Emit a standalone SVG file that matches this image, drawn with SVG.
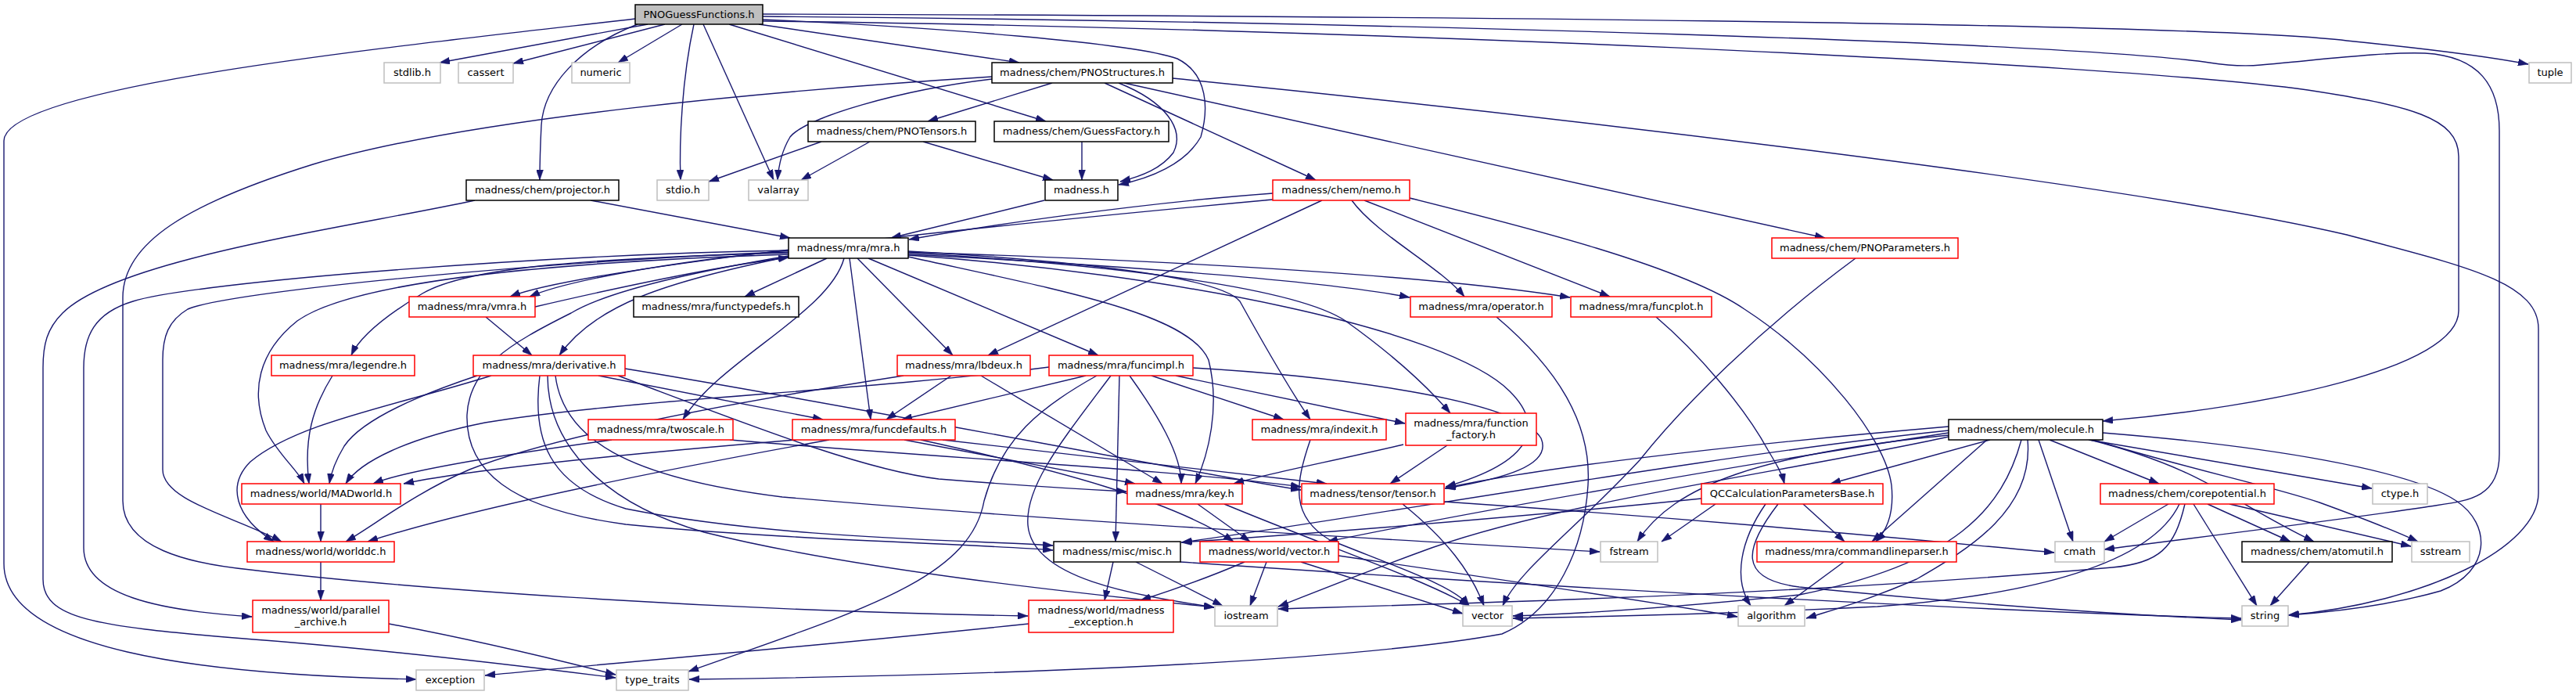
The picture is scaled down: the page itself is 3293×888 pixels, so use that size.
<svg xmlns="http://www.w3.org/2000/svg" width="3293" height="888" viewBox="0 0 3293 888">
<style>
rect{stroke-width:1.5}
.sys rect{fill:#fff;stroke:#bfbfbf}
.doc rect{fill:#fff;stroke:#000}
.red rect{fill:#fff;stroke:#ff0000}
.root rect{fill:#bfbfbf;stroke:#000}
text{font-family:"DejaVu Sans","Liberation Sans",sans-serif;font-size:13px;fill:#000;text-anchor:middle}
#edges path{fill:none;stroke:#191970;stroke-width:1.4;marker-end:url(#ah)}
</style>
<defs>
<marker id="ah" markerUnits="userSpaceOnUse" markerWidth="13" markerHeight="9" refX="13" refY="4.5" orient="auto" viewBox="0 0 13 9">
<path d="M0,0 L13,4.5 L0,9 z" fill="#191970" stroke="#191970" stroke-width="0.5"/>
</marker>
</defs>
<rect width="3293" height="888" fill="#fff" style="stroke:none"/>
<g id="edges">
<path d="M812,24 C500,60 5,110 5,180 L5,720 C5,830 250,862 532,868"/>
<path d="M828,31 L562,80"/>
<path d="M850,31 L656,81"/>
<path d="M872,31 L790,80"/>
<path d="M815,31 C740,60 695,110 692,160 C690,200 690,215 690,230"/>
<path d="M887,31 C872,100 868,180 870,230"/>
<path d="M899,31 L989,230"/>
<path d="M932,31 L1337,155"/>
<path d="M970,31 L1303,80"/>
<path d="M975,25 C1200,35 1450,55 1505,75 C1545,95 1545,140 1535,175 C1515,210 1470,228 1430,236"/>
<path d="M975,18 C1700,20 2800,28 3000,52 C3100,62 3180,72 3232,82"/>
<path d="M975,21 C1800,28 2650,55 2824,80 C2850,84 2870,85 2890,83 C2970,76 3050,66 3100,68 C3170,72 3195,110 3195,167 L3195,580 C3195,640 3150,640 3100,648 C2950,670 2780,690 2690,702"/>
<path d="M975,27 C1700,35 2700,80 2950,115 C3080,135 3143,150 3143,200 L3143,397 C3143,470 2900,520 2688,538"/>
<path d="M1345,106 L1186,155"/>
<path d="M1430,106 C1490,130 1515,165 1500,195 C1485,215 1460,225 1432,232"/>
<path d="M1412,106 L1682,230"/>
<path d="M1437,106 L2333,304"/>
<path d="M1499,100 C1900,140 2700,230 3000,300 C3150,340 3245,360 3245,420 L3245,630 C3245,700 3100,770 2925,786"/>
<path d="M1268,101 C1150,115 1030,150 1010,175 C998,195 995,215 994,230"/>
<path d="M1268,98 C1000,115 600,150 400,210 C240,260 157,310 157,380 L157,640 C157,700 240,720 320,728 C500,750 900,780 1314,787"/>
<path d="M1050,181 L906,232"/>
<path d="M1112,181 L1024,230"/>
<path d="M1180,181 L1346,230"/>
<path d="M1383,181 L1383,230"/>
<path d="M755,256 L1010,304"/>
<path d="M607,256 C450,290 150,330 80,400 C60,420 55,440 55,470 L55,740 C55,790 120,800 300,815 C500,830 700,855 787,866"/>
<path d="M1335,256 L1139,304"/>
<path d="M1627,247 C1450,260 1250,290 1162,306"/>
<path d="M1627,255 C1300,285 750,340 652,379"/>
<path d="M1690,256 L1263,454"/>
<path d="M1728,256 C1760,300 1840,340 1872,379"/>
<path d="M1744,256 L2058,379"/>
<path d="M1802,253 C1950,290 2150,340 2230,395 C2330,460 2410,560 2418,620 C2422,660 2410,680 2398,692"/>
<path d="M1008,320 C850,335 720,360 677,379"/>
<path d="M684,392 C800,365 920,340 1008,329"/>
<path d="M1057,330 L952,379"/>
<path d="M1008,323 C760,330 600,340 540,375 C490,405 460,430 449,454"/>
<path d="M1008,328 C850,360 760,390 715,454"/>
<path d="M1096,330 L1218,454"/>
<path d="M1110,330 L1404,454"/>
<path d="M1086,330 L1113,536"/>
<path d="M1079,330 C1060,400 920,460 873,536"/>
<path d="M1161,325 C1450,340 1700,360 1802,380"/>
<path d="M1161,322 C1550,335 1850,355 2007,380"/>
<path d="M1161,321 C1400,335 1560,355 1585,385 C1610,430 1650,500 1675,536"/>
<path d="M1161,323 C1450,340 1660,370 1720,410 C1790,460 1830,500 1854,528"/>
<path d="M1161,326 C1500,350 1850,420 1930,500 C1975,545 1960,590 1848,622"/>
<path d="M1161,328 C1350,370 1520,400 1545,460 C1560,520 1545,580 1528,618"/>
<path d="M1008,325 C700,335 450,360 380,410 C330,450 320,500 340,550 C355,580 380,600 389,618"/>
<path d="M1008,322 C750,330 300,370 240,395 C215,410 208,430 208,460 L208,600 C208,640 300,660 360,692"/>
<path d="M1008,320 C700,325 250,360 170,385 C120,400 107,430 107,470 L107,700 C107,760 200,780 322,788"/>
<path d="M1008,327 C900,345 780,370 730,400 C650,440 600,470 597,530 C595,600 650,650 800,670 C1000,690 1250,695 1346,703"/>
<path d="M621,405 L680,454"/>
<path d="M425,480 C400,520 388,560 395,618"/>
<path d="M765,480 L1052,536"/>
<path d="M610,480 C520,510 460,540 440,570 C428,590 423,605 421,618"/>
<path d="M628,480 C500,520 380,540 320,590 C290,620 300,660 350,692"/>
<path d="M690,480 C680,560 700,620 800,650 C1000,690 1250,690 1346,697"/>
<path d="M700,480 C700,560 760,640 900,680 C1100,730 1400,760 1552,776"/>
<path d="M790,480 C950,540 1100,600 1200,612 C1300,620 1400,626 1440,628"/>
<path d="M799,471 C1100,520 1500,600 1663,626"/>
<path d="M710,480 C720,560 800,610 1000,635 C1400,670 1800,690 2045,705"/>
<path d="M782,562 C650,580 520,600 477,618"/>
<path d="M933,562 C1200,585 1500,600 1663,622"/>
<path d="M1017,562 C800,580 600,600 516,618"/>
<path d="M1060,562 C850,600 600,650 470,692"/>
<path d="M1156,562 L1451,618"/>
<path d="M1177,562 C1350,600 1500,640 1577,692"/>
<path d="M1205,562 L1696,618"/>
<path d="M1216,480 L1133,536"/>
<path d="M1155,480 C900,520 700,560 600,600 C530,630 480,670 442,692"/>
<path d="M1254,480 L1486,618"/>
<path d="M1388,480 L1153,536"/>
<path d="M1341,469 C1100,500 800,510 620,540 C520,560 460,590 442,618"/>
<path d="M1402,480 C1330,520 1280,560 1258,640 C1240,740 1100,780 880,858"/>
<path d="M1420,480 C1360,560 1310,620 1314,671 C1320,740 1450,760 1552,776"/>
<path d="M1431,480 L1426,692"/>
<path d="M1444,480 C1480,530 1510,580 1510,618"/>
<path d="M1472,480 L1641,536"/>
<path d="M1503,480 L1796,541"/>
<path d="M1525,470 C1700,480 1940,510 1970,560 C1985,595 1920,612 1848,624"/>
<path d="M1675,562 C1655,620 1650,660 1700,690 C1800,730 1860,750 1878,774"/>
<path d="M1794,568 C1700,590 1620,605 1577,618"/>
<path d="M1850,569 L1777,618"/>
<path d="M1913,405 C1990,470 2035,540 2030,620 C2025,700 1990,780 1920,810 C1700,850 1200,864 881,868"/>
<path d="M2117,405 C2170,450 2230,520 2260,575 C2272,595 2278,605 2281,618"/>
<path d="M2372,330 C2250,420 2150,520 2096,588 C2010,680 1940,730 1921,774"/>
<path d="M1793,644 C1850,690 1880,730 1897,774"/>
<path d="M1846,641 C2200,665 2450,690 2626,706"/>
<path d="M1531,644 L1598,692"/>
<path d="M1565,644 C1700,700 1820,740 1878,774"/>
<path d="M1423,718 L1412,767"/>
<path d="M1452,718 L1563,774"/>
<path d="M1509,718 C1900,745 2500,780 2865,790"/>
<path d="M1619,718 L1598,774"/>
<path d="M1663,718 L1870,784"/>
<path d="M1591,718 C1540,740 1480,760 1458,767"/>
<path d="M1711,710 C1950,745 2150,775 2221,788"/>
<path d="M2175,637 C1950,660 1700,680 1510,693"/>
<path d="M2193,644 L2124,692"/>
<path d="M2305,644 L2358,692"/>
<path d="M2257,644 C2225,690 2215,740 2238,774"/>
<path d="M2273,644 C2230,700 2220,740 2300,750 C2500,770 2700,785 2865,792"/>
<path d="M2544,562 L2340,618"/>
<path d="M2540,562 L2393,692"/>
<path d="M2592,562 C2600,650 2520,700 2450,740 C2380,770 2340,780 2309,790"/>
<path d="M2606,562 L2650,692"/>
<path d="M2620,562 L2760,618"/>
<path d="M2670,562 L3032,624"/>
<path d="M2676,562 C2800,600 2900,620 2965,642 C3020,662 3065,680 3091,692"/>
<path d="M2672,562 C2820,600 2850,640 2958,692"/>
<path d="M2688,553 C2900,570 3080,600 3140,640 C3185,670 3185,730 3120,755 C3050,775 2980,782 2926,786"/>
<path d="M2584,562 C2560,650 2500,720 2300,760 C2100,780 2000,785 1934,787"/>
<path d="M2491,545 C2200,570 1950,600 1847,624"/>
<path d="M2491,550 C2200,580 1750,660 1511,693"/>
<path d="M2491,553 C2250,590 1900,650 1697,692"/>
<path d="M2491,556 C2250,580 2140,620 2093,692"/>
<path d="M2491,558 C2300,600 2000,640 1830,700 C1720,740 1660,765 1634,775"/>
<path d="M2772,644 L2690,692"/>
<path d="M2786,644 C2750,720 2600,760 2400,775 C2200,785 2050,788 1934,790"/>
<path d="M2793,644 C2780,700 2760,720 2700,725 C2300,760 1900,770 1634,778"/>
<path d="M2804,644 L2885,774"/>
<path d="M2822,644 L2928,692"/>
<path d="M2850,644 L3082,698"/>
<path d="M2952,718 L2902,774"/>
<path d="M2357,718 L2281,774"/>
<path d="M410,644 L410,692"/>
<path d="M410,718 L410,767"/>
<path d="M497,797 C620,820 720,845 787,862"/>
<path d="M1315,797 C1000,830 750,850 620,863"/>
</g>
<g id="n_root" class="root"><rect x="812" y="6" width="163" height="25"/><text x="893.5" y="23">PNOGuessFunctions.h</text></g>
<g id="n_stdlib" class="sys"><rect x="491" y="80" width="72" height="26"/><text x="527" y="97">stdlib.h</text></g>
<g id="n_cassert" class="sys"><rect x="586" y="80" width="70" height="26"/><text x="621" y="97">cassert</text></g>
<g id="n_numeric" class="sys"><rect x="731" y="80" width="74" height="26"/><text x="768" y="97">numeric</text></g>
<g id="n_pnostructures" class="doc"><rect x="1268" y="80" width="231" height="26"/><text x="1383.5" y="97">madness/chem/PNOStructures.h</text></g>
<g id="n_tuple" class="sys"><rect x="3233" y="80" width="54" height="26"/><text x="3260" y="97">tuple</text></g>
<g id="n_pnotensors" class="doc"><rect x="1033" y="155" width="214" height="26"/><text x="1140" y="172">madness/chem/PNOTensors.h</text></g>
<g id="n_guessfactory" class="doc"><rect x="1271" y="155" width="223" height="26"/><text x="1382.5" y="172">madness/chem/GuessFactory.h</text></g>
<g id="n_projector" class="doc"><rect x="596" y="230" width="195" height="26"/><text x="693.5" y="247">madness/chem/projector.h</text></g>
<g id="n_stdio" class="sys"><rect x="840" y="230" width="66" height="26"/><text x="873" y="247">stdio.h</text></g>
<g id="n_valarray" class="sys"><rect x="957" y="230" width="76" height="26"/><text x="995" y="247">valarray</text></g>
<g id="n_madness" class="doc"><rect x="1336" y="230" width="93" height="26"/><text x="1382.5" y="247">madness.h</text></g>
<g id="n_nemo" class="red"><rect x="1627" y="230" width="175" height="26"/><text x="1714.5" y="247">madness/chem/nemo.h</text></g>
<g id="n_mra" class="doc"><rect x="1008" y="304" width="153" height="26"/><text x="1084.5" y="321">madness/mra/mra.h</text></g>
<g id="n_pnoparameters" class="red"><rect x="2265" y="304" width="238" height="26"/><text x="2384" y="321">madness/chem/PNOParameters.h</text></g>
<g id="n_vmra" class="red"><rect x="523" y="379" width="161" height="26"/><text x="603.5" y="396">madness/mra/vmra.h</text></g>
<g id="n_functypedefs" class="doc"><rect x="810" y="379" width="211" height="26"/><text x="915.5" y="396">madness/mra/functypedefs.h</text></g>
<g id="n_operator" class="red"><rect x="1803" y="379" width="181" height="26"/><text x="1893.5" y="396">madness/mra/operator.h</text></g>
<g id="n_funcplot" class="red"><rect x="2008" y="379" width="180" height="26"/><text x="2098" y="396">madness/mra/funcplot.h</text></g>
<g id="n_legendre" class="red"><rect x="347" y="454" width="183" height="26"/><text x="438.5" y="471">madness/mra/legendre.h</text></g>
<g id="n_derivative" class="red"><rect x="605" y="454" width="194" height="26"/><text x="702" y="471">madness/mra/derivative.h</text></g>
<g id="n_lbdeux" class="red"><rect x="1147" y="454" width="170" height="26"/><text x="1232" y="471">madness/mra/lbdeux.h</text></g>
<g id="n_funcimpl" class="red"><rect x="1341" y="454" width="184" height="26"/><text x="1433" y="471">madness/mra/funcimpl.h</text></g>
<g id="n_twoscale" class="red"><rect x="752" y="536" width="185" height="26"/><text x="844.5" y="553">madness/mra/twoscale.h</text></g>
<g id="n_funcdefaults" class="red"><rect x="1013" y="536" width="208" height="26"/><text x="1117" y="553">madness/mra/funcdefaults.h</text></g>
<g id="n_indexit" class="red"><rect x="1601" y="536" width="171" height="26"/><text x="1686.5" y="553">madness/mra/indexit.h</text></g>
<g id="n_function_factory" class="red"><rect x="1797" y="528" width="167" height="41"/><text x="1880.5" y="545">madness/mra/function</text><text x="1880.5" y="560">_factory.h</text></g>
<g id="n_molecule" class="doc"><rect x="2491" y="536" width="197" height="26"/><text x="2589.5" y="553">madness/chem/molecule.h</text></g>
<g id="n_madworld" class="red"><rect x="309" y="618" width="203" height="26"/><text x="410.5" y="635">madness/world/MADworld.h</text></g>
<g id="n_key" class="red"><rect x="1441" y="618" width="147" height="26"/><text x="1514.5" y="635">madness/mra/key.h</text></g>
<g id="n_tensor" class="red"><rect x="1664" y="618" width="182" height="26"/><text x="1755" y="635">madness/tensor/tensor.h</text></g>
<g id="n_qccalc" class="red"><rect x="2175" y="618" width="232" height="26"/><text x="2291" y="635">QCCalculationParametersBase.h</text></g>
<g id="n_corepotential" class="red"><rect x="2685" y="618" width="222" height="26"/><text x="2796" y="635">madness/chem/corepotential.h</text></g>
<g id="n_ctype" class="sys"><rect x="3033" y="618" width="70" height="26"/><text x="3068" y="635">ctype.h</text></g>
<g id="n_worlddc" class="red"><rect x="316" y="692" width="188" height="26"/><text x="410" y="709">madness/world/worlddc.h</text></g>
<g id="n_misc" class="doc"><rect x="1347" y="692" width="162" height="26"/><text x="1428" y="709">madness/misc/misc.h</text></g>
<g id="n_vectorh" class="red"><rect x="1534" y="692" width="177" height="26"/><text x="1622.5" y="709">madness/world/vector.h</text></g>
<g id="n_fstream" class="sys"><rect x="2046" y="692" width="73" height="26"/><text x="2082.5" y="709">fstream</text></g>
<g id="n_cmdline" class="red"><rect x="2246" y="692" width="255" height="26"/><text x="2373.5" y="709">madness/mra/commandlineparser.h</text></g>
<g id="n_cmath" class="sys"><rect x="2627" y="692" width="63" height="26"/><text x="2658.5" y="709">cmath</text></g>
<g id="n_atomutil" class="doc"><rect x="2866" y="692" width="192" height="26"/><text x="2962" y="709">madness/chem/atomutil.h</text></g>
<g id="n_sstream" class="sys"><rect x="3083" y="692" width="74" height="26"/><text x="3120" y="709">sstream</text></g>
<g id="n_parallel" class="red"><rect x="323" y="767" width="174" height="41"/><text x="410" y="784">madness/world/parallel</text><text x="410" y="799">_archive.h</text></g>
<g id="n_mexc" class="red"><rect x="1315" y="767" width="185" height="41"/><text x="1407.5" y="784">madness/world/madness</text><text x="1407.5" y="799">_exception.h</text></g>
<g id="n_iostream" class="sys"><rect x="1553" y="774" width="80" height="26"/><text x="1593" y="791">iostream</text></g>
<g id="n_vector" class="sys"><rect x="1870" y="774" width="63" height="26"/><text x="1901.5" y="791">vector</text></g>
<g id="n_algorithm" class="sys"><rect x="2222" y="774" width="85" height="26"/><text x="2264.5" y="791">algorithm</text></g>
<g id="n_string" class="sys"><rect x="2866" y="774" width="59" height="26"/><text x="2895.5" y="791">string</text></g>
<g id="n_exception" class="sys"><rect x="532" y="856" width="87" height="26"/><text x="575.5" y="873">exception</text></g>
<g id="n_type_traits" class="sys"><rect x="788" y="856" width="92" height="26"/><text x="834" y="873">type_traits</text></g>
</svg>
